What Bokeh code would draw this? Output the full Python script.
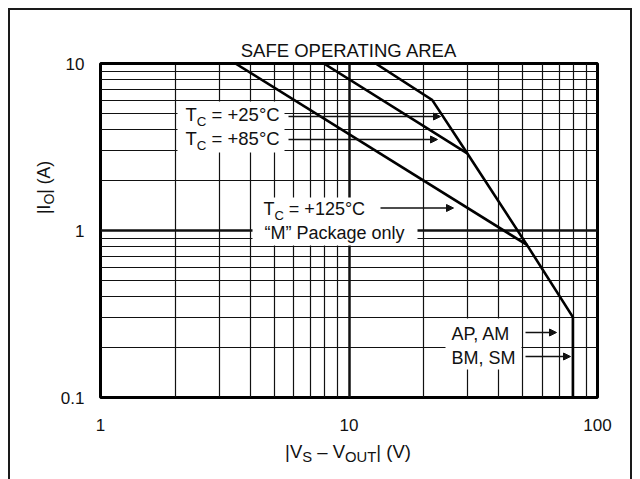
import math
from bokeh.plotting import figure
from bokeh.layouts import row, column
from bokeh.models import Label, Arrow, NormalHead, BoxAnnotation, FixedTicker, Range1d
from bokeh.embed import file_html
from bokeh.resources import INLINE

# ---------------- data ----------------
x_major = [1, 10, 100]
x_minor = [2, 3, 4, 5, 6, 7, 8, 9, 20, 30, 40, 50, 60, 70, 80, 90]
y_major = [0.1, 1, 10]
y_minor = [0.2, 0.3, 0.4, 0.5, 0.6, 0.7, 0.8, 0.9, 2, 3, 4, 5, 6, 7, 8, 9]
x_tick_labels = ["1", "10", "100"]
y_tick_labels = ["0.1", "1", "10"]

# |Vs - Vout| (V) and |Io| (A) for each limit curve
v_25 = [1, 12.8, 21.6, 29.9, 52, 79.6, 79.6]
i_25 = [10, 10, 6.06, 2.9, 0.82, 0.303, 0.1]
v_85 = [1, 7.92, 29.9]
i_85 = [10, 10, 2.9]
v_125 = [3.49, 52]
i_125 = [10, 0.82]

title_text = "SAFE OPERATING AREA"

# ---------------- layout (page pixels) ----------------
FONT = "Liberation Sans"
INK = "#111111"
FL, FT, FR, FB = 100, 63, 597, 397       # chart frame edges
MARGIN = 8
LEFT_W = 48                              # strip holding the y-axis title
TOP_H = 432                              # height of the upper row
PAGE_W, PAGE_H = 624, 471
MX0, MY0 = MARGIN + LEFT_W, MARGIN       # main figure canvas origin
MW = PAGE_W - LEFT_W
BASE_FIX = 0.38                          # alphabetic-baseline correction (fraction of size)

p = figure(width=MW, height=TOP_H, x_axis_type="log", y_axis_type="log",
           x_range=Range1d(1, 100), y_range=Range1d(0.1, 10),
           output_backend="svg", toolbar_location=None,
           min_border_left=FL - MX0, min_border_right=MX0 + MW - FR,
           min_border_top=FT - MY0, min_border_bottom=MY0 + TOP_H - FB)
p.background_fill_color = "white"
p.border_fill_color = None
p.outline_line_color = "black"
p.outline_line_width = 3

p.title.text = title_text
p.title.align = "center"
p.title.text_font = FONT
p.title.text_font_size = "18.5px"
p.title.text_font_style = "normal"
p.title.text_color = INK
p.title.standoff = 6

p.xaxis.ticker = FixedTicker(ticks=x_major, minor_ticks=x_minor)
p.yaxis.ticker = FixedTicker(ticks=y_major, minor_ticks=y_minor)
p.xaxis.major_label_overrides = dict(zip(x_major, x_tick_labels))
p.yaxis.major_label_overrides = dict(zip(y_major, y_tick_labels))
for ax in (p.xaxis, p.yaxis):
    ax.axis_line_color = None
    ax.major_tick_line_color = None
    ax.minor_tick_line_color = None
    ax.major_tick_out = 0
    ax.major_tick_in = 0
    ax.major_label_text_font = FONT
    ax.major_label_text_font_size = "17px"
    ax.major_label_text_color = INK
p.yaxis.major_label_standoff = 12
p.xaxis.major_label_standoff = 17

for g in (p.xgrid, p.ygrid):
    g.grid_line_color = INK
    g.grid_line_width = 2.5
    g.minor_grid_line_color = INK
    g.minor_grid_line_width = 1.2

for xs, ys in ((v_25, i_25), (v_85, i_85), (v_125, i_125)):
    p.line(xs, ys, line_color="black", line_width=2.6, line_join="miter")


def blank(w, h):
    f = figure(width=w, height=h, output_backend="svg", toolbar_location=None,
               x_axis_location=None, y_axis_location=None, title=None,
               x_range=Range1d(0, 1), y_range=Range1d(0, 1),
               min_border=0, min_border_left=0, min_border_right=0,
               min_border_top=0, min_border_bottom=0)
    f.grid.visible = False
    f.outline_line_color = None
    f.background_fill_color = None
    f.border_fill_color = None
    return f

yfig = blank(LEFT_W, TOP_H)
xfig = blank(PAGE_W, PAGE_H - TOP_H)

# ---------------- text helpers ----------------
AW = {" ": 278, "|": 260, "I": 278, "O": 778, "(": 333, ")": 333, "A": 667, "V": 667,
      "S": 667, "–": 556, "U": 722, "T": 611, "C": 722, "=": 584, "+": 584, "°": 400,
      "0": 556, "1": 556, "2": 556, "5": 556, "8": 556}

def tw(s, size):
    return sum(AW.get(c, 556) for c in s) * size / 1000.0

# each target: (figure, page x of its frame left, page y of its frame bottom)
MAIN = (p, FL, FB)
YT = (yfig, MARGIN, MY0 + TOP_H)
XT = (xfig, MARGIN, MARGIN + PAGE_H)

def label(tgt, px, py, text, size, align="left", angle=0.0):
    """px, py: page position of the text start on its (ink) baseline."""
    f, x0, yb = tgt
    fix = BASE_FIX * size
    if angle:
        px -= fix
    else:
        py -= fix
    f.add_layout(Label(x=px - x0, y=yb - py, x_units="screen", y_units="screen", text=text,
                       text_font=FONT, text_font_size=f"{size}px", text_color=INK,
                       text_align=align, text_baseline="alphabetic", angle=angle))

def compose(tgt, px, py, parts, size, sub_scale=0.72, sub_drop=5, rotated=False):
    off = 0.0
    for txt, sub in parts:
        s = size * sub_scale if sub else size
        d = sub_drop if sub else 0
        lead = len(txt) - len(txt.lstrip(" "))
        off += tw(" " * lead, s)
        body = txt.lstrip(" ")
        if rotated:
            label(tgt, px + d, py - off, body, round(s, 1), angle=math.pi / 2)
        else:
            label(tgt, px + off, py + d, body, round(s, 1))
        off += tw(body, s)

def compose_centered(tgt, c, base, parts, size, sub_scale, sub_drop, rotated=False):
    total = sum(tw(t, size * (sub_scale if sb else 1)) for t, sb in parts)
    if rotated:
        compose(tgt, base, c + total / 2, parts, size, sub_scale, sub_drop, rotated=True)
    else:
        compose(tgt, c - total / 2, base, parts, size, sub_scale, sub_drop)

def box(l, t, r, b):
    p.add_layout(BoxAnnotation(left=l - FL, right=r - FL, top=FB - t, bottom=FB - b,
                               left_units="screen", right_units="screen",
                               top_units="screen", bottom_units="screen",
                               fill_color="white", fill_alpha=1.0, line_color=None))

def arrow(x0, x1, y):
    p.add_layout(Arrow(x_start=x0 - FL, y_start=FB - y, x_end=x1 - FL, y_end=FB - y,
                       start_units="screen", end_units="screen", line_color=INK,
                       line_width=1.3,
                       end=NormalHead(size=7, fill_color=INK, line_color=INK, line_width=1)))

# white label backgrounds
box(177, 101, 284, 152)
box(252, 197, 417, 245)
box(445, 318, 521, 369)

# curve labels
compose(MAIN, 185, 121, [("T", False), ("C", True), (" = +25°C", False)], 18.5)
compose(MAIN, 185, 145, [("T", False), ("C", True), (" = +85°C", False)], 18.5)
compose(MAIN, 263, 215, [("T", False), ("C", True), (" = +125°C", False)], 18)
label(MAIN, 264, 239, "“M” Package only", 18)
label(MAIN, 451, 340, "AP, AM", 18)
label(MAIN, 451, 364, "BM, SM", 18)

arrow(288, 440, 116)
arrow(288, 437, 139)
arrow(380, 453, 207.5)
arrow(525, 556, 332)
arrow(525, 570, 356)

# axis titles
compose_centered(XT, 347.5, 458, [("|V", False), ("S", True), (" – V", False),
                                  ("OUT", True), ("| (V)", False)], 18.5, 0.8, 4)
compose_centered(YT, 230, 50.5, [("|I", False), ("O", True), ("| (A)", False)], 17.5, 0.8, 3,
                 rotated=True)

page = column(row(yfig, p), xfig)
page.styles = {"box-shadow": "inset 2px 2px 0 0 #1a1a1a, inset -2px 0 0 0 #1a1a1a",
               "background-color": "white", "margin-left": f"{MARGIN}px",
               "margin-top": f"{MARGIN}px"}

open("out.html", "w").write(file_html(page, INLINE))
